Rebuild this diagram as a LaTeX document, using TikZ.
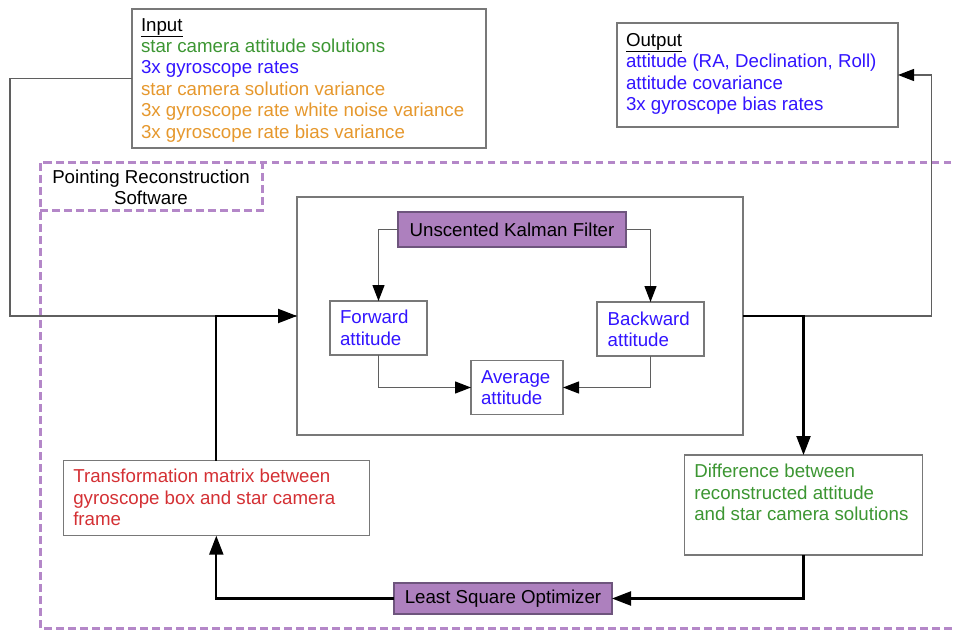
\documentclass[tikz,border=0pt]{standalone}
\usepackage{fontspec}
\setmainfont{Liberation Sans}
\usetikzlibrary{arrows.meta}
\definecolor{cgreen}{RGB}{60,150,50}
\definecolor{cblue}{RGB}{50,20,255}
\definecolor{corange}{RGB}{230,152,45}
\definecolor{cred}{RGB}{212,48,52}
\definecolor{pfill}{RGB}{173,128,190}
\definecolor{pborder}{RGB}{110,85,125}
\definecolor{pdash}{RGB}{180,135,200}
\definecolor{bgray}{RGB}{120,120,120}
\definecolor{lgray}{RGB}{95,95,95}
\tikzset{
  box/.style={draw=bgray, line width=1.3pt, fill=white, inner sep=0pt, outer sep=0pt, anchor=north west},
  pbox/.style={draw=pborder, line width=1.3pt, fill=pfill, inner sep=0pt, outer sep=0pt, anchor=north west,
     font=\fontsize{18.7pt}{21.5pt}\selectfont, text=black},
  txt/.style={anchor=base west, inner sep=0pt, outer sep=0pt, font=\fontsize{18.7pt}{21.5pt}\selectfont},
  ctxt/.style={anchor=base, inner sep=0pt, outer sep=0pt, font=\fontsize{18.7pt}{21.5pt}\selectfont},
  thinconn/.style={draw=lgray, line width=1.3pt},
  thinarrow/.style={thinconn, -{Triangle[length=16pt,width=12pt,black]}},
  thickconn/.style={draw=black, line width=2.2pt, -{Triangle[length=19pt,width=14pt]}},
  purpdash/.style={draw=pdash, line width=3pt, dash pattern=on 7.5pt off 4.5pt},
}
\begin{document}
\begin{tikzpicture}[x=1pt,y=-1pt]
\useasboundingbox (0,0) rectangle (956,631);
\fill[white] (0,0) rectangle (956,631);
\clip (0,0) rectangle (956,631);

% dashed software region
\draw[purpdash] (975,163) -- (40,163) -- (40,628) -- (975,628);
\draw[purpdash] (40,163) rectangle (262,211);
\node[ctxt] (pr1) at (151,183.5) {Pointing Reconstruction};
\node[ctxt] (pr2) at (151,204.5) {Software};

% boxes
\node[box, minimum width=354pt, minimum height=139pt] (inbox) at (132,9) {};
\node[box, minimum width=281pt, minimum height=104pt] (outbox) at (617,23) {};
\node[box, minimum width=446pt, minimum height=238pt] (bigbox) at (297,197) {};
\node[pbox, minimum width=228pt, minimum height=35pt] (ukf) at (398,212) {Unscented Kalman Filter};
\node[box, minimum width=97pt, minimum height=54pt] (fwd) at (330,301) {};
\node[box, minimum width=107pt, minimum height=54pt] (bwd) at (597,302) {};
\node[box, minimum width=92pt, minimum height=54pt] (avg) at (471,360.5) {};
\node[box, minimum width=306pt, minimum height=75pt] (tr) at (63.3,460.7) {};
\node[box, minimum width=238pt, minimum height=100pt] (diff) at (684.5,455) {};
\node[pbox, minimum width=218pt, minimum height=31pt] (lso) at (394,583) {Least Square Optimizer};

% input text
\node[txt] (in0) at (141,31.3) {\underline{Input}};
\node[txt, text=cgreen] (in1) at (141,52.5) {star camera attitude solutions};
\node[txt, text=cblue] (in2) at (141,74) {3x gyroscope rates};
\node[txt, text=corange] (in3) at (141,95.5) {star camera solution variance};
\node[txt, text=corange] (in4) at (141,117) {3x gyroscope rate white noise variance};
\node[txt, text=corange] (in5) at (141,138.5) {3x gyroscope rate bias variance};

% output text
\node[txt] (out0) at (626,46.3) {\underline{Output}};
\node[txt, text=cblue] (out1) at (626,67.8) {attitude (RA, Declination, Roll)};
\node[txt, text=cblue] (out2) at (626,89.3) {attitude covariance};
\node[txt, text=cblue] (out3) at (626,110.8) {3x gyroscope bias rates};

% inner texts
\node[txt, text=cblue] (fw1) at (340,323.5) {Forward};
\node[txt, text=cblue] (fw2) at (340,345.3) {attitude};
\node[txt, text=cblue] (bw1) at (607.7,325) {Backward};
\node[txt, text=cblue] (bw2) at (607.7,346.7) {attitude};
\node[txt, text=cblue] (av1) at (481,383.3) {Average};
\node[txt, text=cblue] (av2) at (481,404.5) {attitude};

\node[txt, text=cred] (tr1) at (73.3,482.7) {Transformation matrix between};
\node[txt, text=cred] (tr2) at (73.3,504.2) {gyroscope box and star camera};
\node[txt, text=cred] (tr3) at (73.3,525.7) {frame};

\node[txt, text=cgreen] (df1) at (694.3,477.7) {Difference between};
\node[txt, text=cgreen] (df2) at (694.3,499.3) {reconstructed attitude};
\node[txt, text=cgreen] (df3) at (694.3,520.9) {and star camera solutions};

% coordinates for free ends
\coordinate (inL) at (10,0);
\coordinate (outR) at (931.5,0);

% thin connectors
\draw[thinconn] (inbox.west) -| (inL |- bigbox.west) -- (bigbox.west);
\draw[thinarrow] (bigbox.east) -| (outR |- outbox.east) -- (outbox.east);
\draw[thinarrow] (ukf.west) -| (fwd.north);
\draw[thinarrow] (ukf.east) -| (bwd.north);
\draw[thinarrow] (fwd.south) |- (avg.west);
\draw[thinarrow] (bwd.south) |- (avg.east);

% thick loop
\draw[thickconn] (bigbox.east) -| (diff.north);
\draw[thickconn] (diff.south) |- (lso.east);
\draw[thickconn] (lso.west) -| (tr.south);
\draw[thickconn] (tr.north) |- (bigbox.west);
\end{tikzpicture}
\end{document}
